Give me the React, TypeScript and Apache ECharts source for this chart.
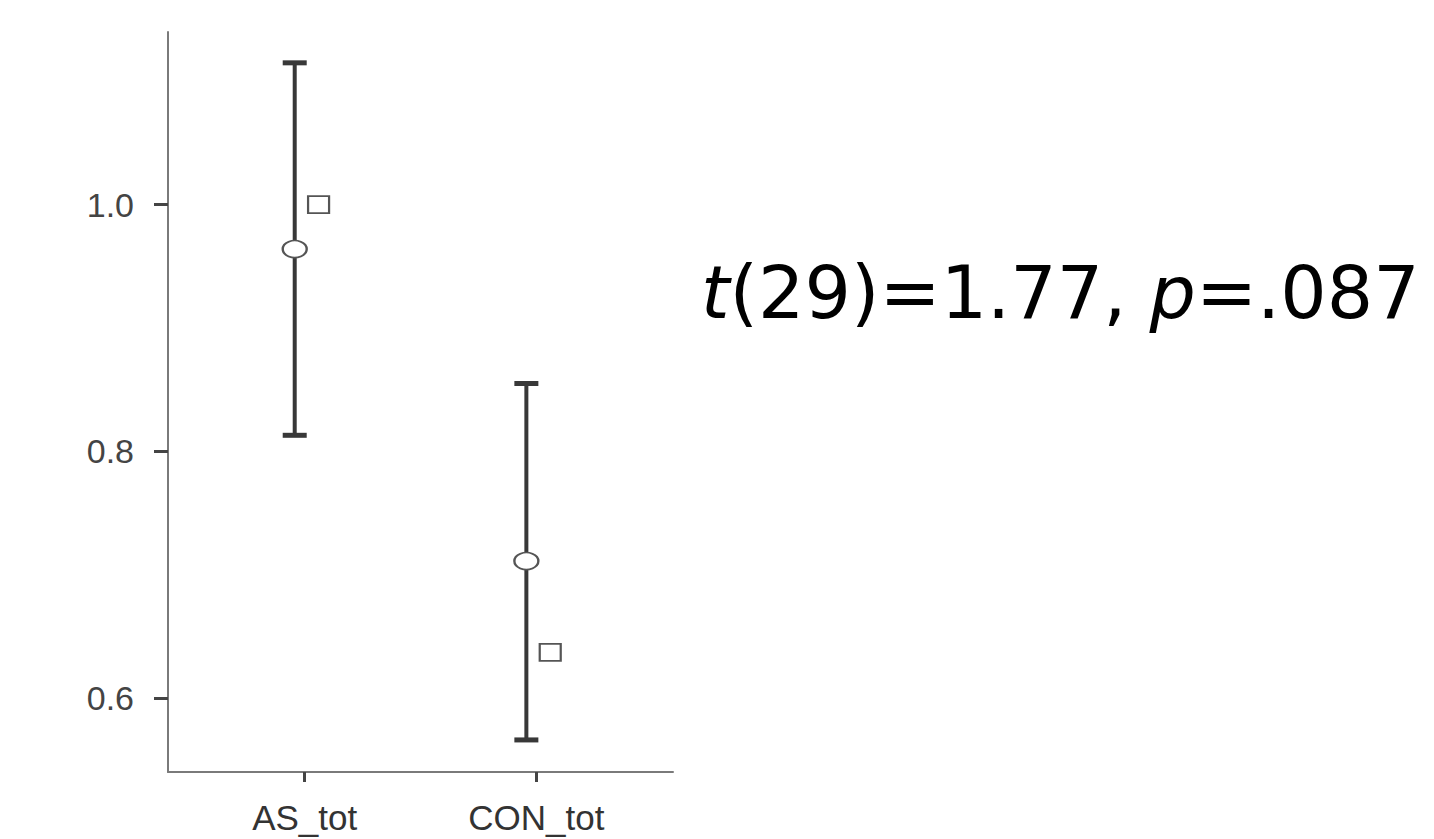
import React, { useEffect, useRef } from "react";
import * as echarts from "echarts";

// ---- data ----
const categories = ["AS_tot", "CON_tot"];
const categoryPositions = [1, 2];
const means = [0.964, 0.711];
const lowerCI = [0.813, 0.566];
const upperCI = [1.115, 0.855];
const medians = [1.0, 0.637];
const yTickValues = [0.6, 0.8, 1.0];
const annotation = "{i|t}(29)=1.77, {i|p}=.087";

// ---- style constants ----
const BAR_DODGE = -0.043;
const MEDIAN_DODGE = 0.06;
const CAP_HALF = 12;
const BAR_COLOR = "#383838";
const LABEL_FONT = "Liberation Sans, Arial, sans-serif";

export default function App() {
  const ref = useRef<HTMLDivElement>(null);

  useEffect(() => {
    if (!ref.current) return;
    const chart = echarts.init(ref.current, undefined, { renderer: "svg" });

    const errData = categoryPositions.map((x, i) => [x + BAR_DODGE, lowerCI[i], upperCI[i]]);
    const meanData = categoryPositions.map((x, i) => [x + BAR_DODGE, means[i]]);
    const medianData = categoryPositions.map((x, i) => [x + MEDIAN_DODGE, medians[i]]);

    chart.setOption({
      animation: false,
      backgroundColor: "#ffffff",
      grid: { left: 168, right: 761, top: 32, bottom: 67, containLabel: false },
      xAxis: {
        type: "value",
        min: 0.41,
        max: 2.59,
        splitLine: { show: false },
        axisLine: { show: true, lineStyle: { color: "#7a7a7a", width: 2 } },
        axisTick: {
          show: true,
          customValues: categoryPositions,
          length: 10,
          lineStyle: { color: "#444", width: 3 },
        },
        axisLabel: {
          customValues: categoryPositions,
          formatter: (v: number) => categories[Math.round(v) - 1] ?? "",
          color: "#333",
          fontFamily: LABEL_FONT,
          fontSize: 35,
          margin: 28,
        },
      },
      yAxis: {
        type: "value",
        min: 0.54,
        max: 1.14,
        splitLine: { show: false },
        axisLine: { show: true, lineStyle: { color: "#7a7a7a", width: 2 } },
        axisTick: {
          show: true,
          customValues: yTickValues,
          length: 14,
          lineStyle: { color: "#444", width: 3 },
        },
        axisLabel: {
          customValues: yTickValues,
          formatter: (v: number) => v.toFixed(1),
          color: "#444",
          fontFamily: LABEL_FONT,
          fontSize: 34,
          margin: 34,
        },
      },
      series: [
        {
          type: "custom",
          data: errData,
          z: 2,
          renderItem: (_params: any, api: any) => {
            const x = api.value(0);
            const lo = api.coord([x, api.value(1)]);
            const hi = api.coord([x, api.value(2)]);
            const st = { stroke: BAR_COLOR, lineWidth: 4 };
            const cap = { stroke: BAR_COLOR, lineWidth: 5 };
            return {
              type: "group",
              children: [
                { type: "line", shape: { x1: lo[0], y1: lo[1], x2: hi[0], y2: hi[1] }, style: st },
                { type: "line", shape: { x1: hi[0] - CAP_HALF, y1: hi[1], x2: hi[0] + CAP_HALF, y2: hi[1] }, style: cap },
                { type: "line", shape: { x1: lo[0] - CAP_HALF, y1: lo[1], x2: lo[0] + CAP_HALF, y2: lo[1] }, style: cap },
              ],
            };
          },
        },
        {
          type: "scatter",
          data: meanData,
          z: 3,
          symbol: "circle",
          symbolSize: [24, 17],
          itemStyle: { color: "#ffffff", borderColor: "#555", borderWidth: 2, opacity: 1 },
        },
        {
          type: "scatter",
          data: medianData,
          z: 3,
          symbol: "rect",
          symbolSize: [21, 17],
          itemStyle: { color: "#ffffff", borderColor: "#555", borderWidth: 2, opacity: 1 },
        },
      ],
      graphic: [
        {
          type: "text",
          left: 701,
          top: 256,
          style: {
            text: annotation,
            fontFamily: "DejaVu Sans, sans-serif",
            fontSize: 73,
            fill: "#000",
            rich: {
              i: { fontStyle: "italic", fontFamily: "DejaVu Sans, sans-serif", fontSize: 73, fill: "#000" },
            },
          },
        },
      ],
    });

    return () => chart.dispose();
  }, []);

  return (
    <div
      ref={ref}
      style={{ position: "absolute", left: 0, top: 0, width: 1434, height: 839 }}
    />
  );
}
